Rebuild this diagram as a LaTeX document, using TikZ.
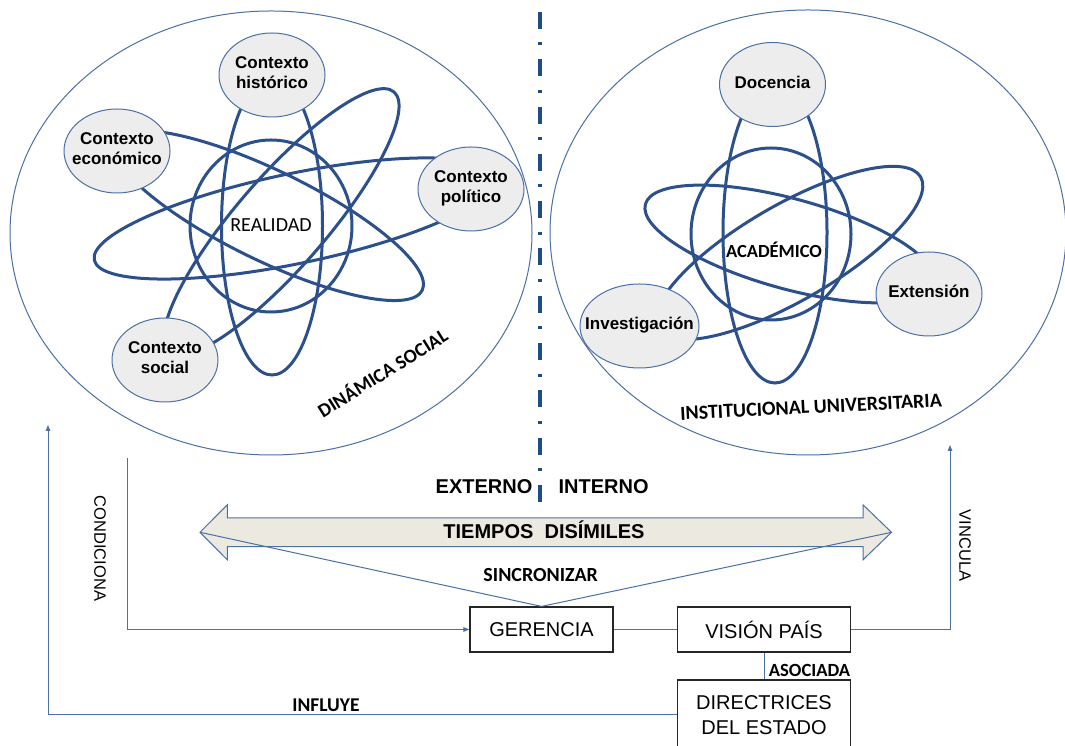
\documentclass[tikz,border=0pt]{standalone}
\usepackage{fontspec}
\setmainfont{Liberation Sans}
\newfontfamily\carl{Carlito}
\usetikzlibrary{arrows.meta,shapes.geometric}
\definecolor{atom}{RGB}{44,80,140}
\definecolor{thinblue}{RGB}{75,112,165}
\definecolor{nodefill}{RGB}{237,237,237}
\definecolor{arrowfill}{RGB}{236,234,224}
\definecolor{dashblue}{RGB}{31,75,135}
\newcommand\ctxt[1]{\makebox[0pt]{\begin{tabular}{@{}c@{}}#1\end{tabular}}}
\begin{document}
\begin{tikzpicture}[x=1pt,y=1pt,
  orbit/.style={draw=atom, line width=3pt},
  bigell/.style={draw=thinblue, line width=1pt},
  ctx/.style={ellipse, draw=thinblue, line width=1pt, fill=nodefill, minimum width=106pt, minimum height=84pt, inner sep=0pt, font=\fontsize{17}{20}\selectfont\bfseries},
  box/.style={draw=black!85, line width=1.2pt, minimum height=45pt, inner sep=0pt, align=center, font=\fontsize{20}{24.5}\selectfont},
  conn/.style={draw=thinblue, line width=1pt},
  tip/.style={-{Triangle[length=6pt,width=4.5pt]}},
  clab/.style={font=\carl\bfseries\fontsize{19.5}{22}\selectfont},
  slab/.style={font=\carl\bfseries\fontsize{19.5}{22}\selectfont},
  alab/.style={font=\bfseries\fontsize{20}{24}\selectfont},
  rlab/.style={font=\fontsize{16.5}{20}\selectfont}]
\useasboundingbox (0,0) rectangle (1065,746);
\clip (0,0) rectangle (1065,746);
\fill[white] (0,0) rectangle (1065,746);

% big ellipses
\draw[bigell] (271,513) ellipse [x radius=261pt, y radius=222pt];
\draw[bigell] (808,513.5) ellipse [x radius=258pt, y radius=222.5pt];

% left atom
\draw[orbit] (271,520) ellipse [x radius=81pt, y radius=86pt];
\draw[orbit] (272,520) ellipse [x radius=50.5pt, y radius=149pt];
\draw[orbit, shift={(295,527.5)}, rotate=11.7] (0,0) ellipse [x radius=205pt, y radius=45pt];
\draw[orbit, shift={(268.4,530.4)}, rotate=-25.9] (0,0) ellipse [x radius=171pt, y radius=45pt];
\draw[orbit, shift={(281.4,524)}, rotate=49.1] (0,0) ellipse [x radius=172pt, y radius=45pt];

\node[ctx] (hist) at (272,671) {\ctxt{Contexto\\histórico}};
\node[ctx] (econ) at (117,595) {\ctxt{Contexto\\económico}};
\node[ctx] (poli) at (471,557) {\ctxt{Contexto\\político}};
\node[ctx] (soci) at (165,386) {\ctxt{Contexto\\social}};
\node[font=\carl\fontsize{20}{22}\selectfont] (real) at (271,521) {REALIDAD};
\node[clab, rotate=32] (dinam) at (382,374) {DINÁMICA SOCIAL};

% right atom
\draw[orbit] (771,512) ellipse [x radius=80pt, y radius=86pt];
\draw[orbit] (775,513.4) ellipse [x radius=52pt, y radius=150.4pt];
\draw[orbit, shift={(790,502)}, rotate=-15.4] (0,0) ellipse [x radius=150pt, y radius=45pt];
\draw[orbit, shift={(789,493)}, rotate=30] (0,0) ellipse [x radius=152pt, y radius=48pt];

\node[ctx] (doce) at (772.5,661.5) {\ctxt{Docencia}};
\node[ctx] (exte) at (929,452) {\ctxt{Extensión}};
\node[ctx, minimum width=119pt] (inve) at (639.5,420) {\ctxt{Investigación}};
\node[font=\carl\bfseries\fontsize{18.5}{22}\selectfont] (acad) at (774,496) {ACADÉMICO};
\node[clab, font=\carl\bfseries\fontsize{20}{22}\selectfont, rotate=2.9] (inst) at (811,339) {INSTITUCIONAL UNIVERSITARIA};

% dash-dot separator
\coordinate (septop) at (540,734);
\coordinate (sepbot) at (540,244);
\draw[dashblue, line width=4.5pt, dash pattern=on 17pt off 13.5pt on 3pt off 13.8pt] (septop) -- (sepbot);

\node[alab] (ext) at (484,259.3) {EXTERNO};
\node[alab] (int) at (603.6,259.3) {INTERNO};

% double arrow
\coordinate (tipL) at (200,213.7);
\coordinate (tipR) at (891.5,213.7);
\draw[draw=thinblue, line width=1pt, fill=arrowfill]
  (tipL) -- (227.3,241.2) -- (227.3,228) -- (863,228) -- (863,241.2) -- (tipR)
  -- (863,186.2) -- (863,199.4) -- (227.3,199.4) -- (227.3,186.2) -- cycle;
\node[alab] (tiem) at (544,216) {TIEMPOS\ \ DISÍMILES};
\node[slab, font=\carl\bfseries\fontsize{20}{22}\selectfont] (sinc) at (540.7,171) {SINCRONIZAR};

% boxes
\node[box, minimum width=143pt] (ger) at (541.5,116.5) {GERENCIA};
\node[box, minimum width=173.4pt] (vis) at (764,116.5) {VISIÓN PAÍS};
\node[box, minimum width=173.4pt, minimum height=70pt] (dir) at (764,31) {DIRECTRICES\\DEL ESTADO};

\draw[conn] (ger.north) -- (tipL);
\draw[conn] (ger.north) -- (tipR);
\draw[conn] (ger.east) -- (vis.west);
\draw[conn] (vis.south) -- (dir.north);
\node[slab, font=\carl\bfseries\fontsize{18.6}{22}\selectfont] (asoc) at (809.5,76) {ASOCIADA};

% CONDICIONA
\coordinate (condtop) at (127,288);
\draw[conn, tip] (condtop) -- (127,116.5) -- (ger.west);
\node[rlab, rotate=-90] (cond) at (100,197.5) {CONDICIONA};

% VINCULA
\coordinate (vinctop) at (950,301);
\draw[conn, tip] (vis.east) -- (950,116.5) -- (vinctop);
\node[rlab, rotate=-90] (vinc) at (965,200.5) {VINCULA};

% INFLUYE
\coordinate (inftop) at (48,321);
\draw[conn, tip] (dir.west) -- (48,31) -- (inftop);
\node[slab] (infl) at (326,41) {INFLUYE};
\end{tikzpicture}
\end{document}
